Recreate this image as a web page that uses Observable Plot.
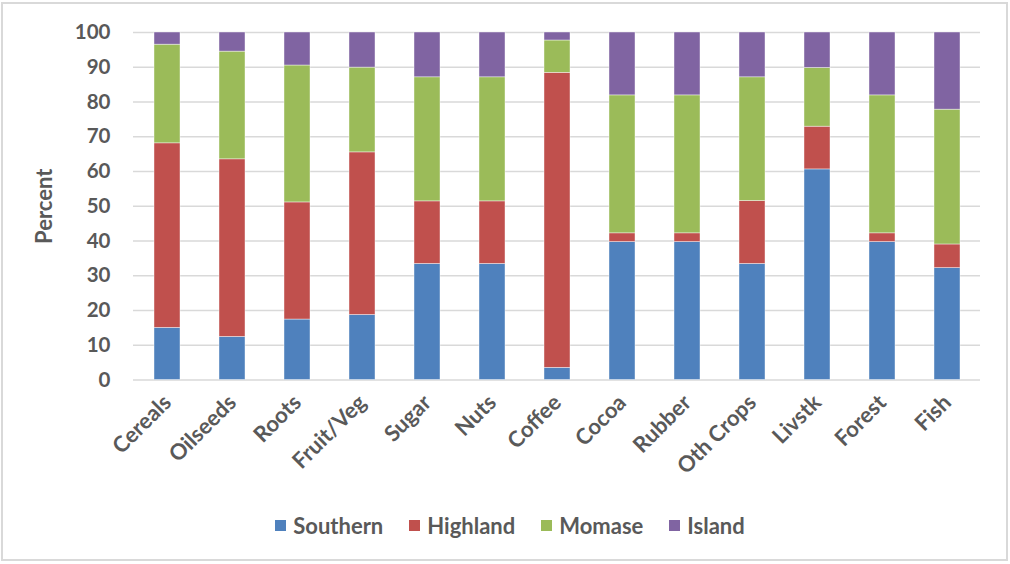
<!DOCTYPE html>
<html>
<head>
<meta charset="utf-8">
<script src="https://cdn.jsdelivr.net/npm/d3@7"></script>
<script src="https://cdn.jsdelivr.net/npm/@observablehq/plot@0.6"></script>
<style>
  body { margin: 0; background: #fff; }
  #frame { position: relative; width: 1010px; height: 564px; font-family: Lato, "Open Sans", sans-serif; color: #595959; }
  #border { position: absolute; left: 1px; top: 2px; width: 1003px; height: 555px; border: 2px solid #d9d9d9; pointer-events: none; }
  #chart svg { display: block; }
  .legend { display: flex; justify-content: center; align-items: center; gap: 26px; padding-left: 10px; margin-top: 22px; font-weight: bold; font-size: 22px; }
  .legend .item { display: flex; align-items: center; gap: 7px; }
  .legend .sw { width: 11px; height: 11px; display: inline-block; }
</style>
</head>
<body>
<div id="frame">
  <div id="chart"></div>
  <div class="legend" id="legend"></div>
  <div id="border"></div>
</div>
<script>
// Share of each commodity's output by region (percent)
const categories = ["Cereals", "Oilseeds", "Roots", "Fruit/Veg", "Sugar", "Nuts", "Coffee", "Cocoa", "Rubber", "Oth Crops", "Livstk", "Forest", "Fish"];
const seriesNames = ["Southern", "Highland", "Momase", "Island"];
const southern = [15.0, 12.4, 17.4, 18.7, 33.4, 33.4, 3.5, 39.7, 39.7, 33.4, 60.6, 39.7, 32.2];
const highland = [53.1, 51.1, 33.7, 46.8, 18.0, 18.0, 84.9, 2.5, 2.5, 18.1, 12.3, 2.5, 6.8];
const momase   = [28.4, 31.0, 39.4, 24.4, 35.7, 35.7, 9.3, 39.7, 39.7, 35.6, 16.9, 39.7, 38.8];
const island   = [3.5, 5.5, 9.5, 10.1, 12.9, 12.9, 2.3, 18.1, 18.1, 12.9, 10.2, 18.1, 22.2];
const yTicks = [0, 10, 20, 30, 40, 50, 60, 70, 80, 90, 100];
const colors = ["#4F81BD", "#C0504D", "#9BBB59", "#8064A2"];

const seriesValues = [southern, highland, momase, island];
const rows = [];
seriesNames.forEach((name, s) => {
  categories.forEach((cat, i) => rows.push({category: cat, region: name, value: seriesValues[s][i]}));
});

const chart = Plot.plot({
  width: 1010,
  height: 490,
  marginLeft: 133,
  marginRight: 30,
  marginTop: 32,
  marginBottom: 110.5,
  style: {fontFamily: "Lato, 'Open Sans', sans-serif", fontSize: "21px", fontWeight: "bold", color: "#595959", background: "transparent"},
  x: {domain: categories, paddingInner: 0.6, paddingOuter: 0.3},
  y: {domain: [0, 100], ticks: yTicks},
  color: {domain: seriesNames, range: colors},
  marks: [
    Plot.gridY(yTicks, {stroke: "#d9d9d9", strokeOpacity: 1, strokeWidth: 1.5}),
    Plot.barY(rows, Plot.stackY({
      x: "category",
      y: "value",
      fill: "region",
      order: seriesNames,
      stroke: "#ffffff",
      strokeWidth: 0.6,
      strokeOpacity: 0.7
    })),
    Plot.axisY(yTicks, {tickSize: 0, tickPadding: 23, fontSize: 20.5, label: null}),
    Plot.text(["Percent"], {frameAnchor: "left", dx: -89, rotate: -90, textAnchor: "middle", fontSize: 22, fontWeight: "bold", fill: "#595959"}),
    Plot.axisX({tickSize: 0, tickPadding: 19, tickRotate: -45, label: null, fontSize: 22})
  ]
});
document.getElementById("chart").appendChild(chart);

const legend = document.getElementById("legend");
seriesNames.forEach((name, i) => {
  const item = document.createElement("div");
  item.className = "item";
  const sw = document.createElement("span");
  sw.className = "sw";
  sw.style.background = colors[i];
  const label = document.createElement("span");
  label.textContent = name;
  item.appendChild(sw);
  item.appendChild(label);
  legend.appendChild(item);
});
</script>
</body>
</html>
